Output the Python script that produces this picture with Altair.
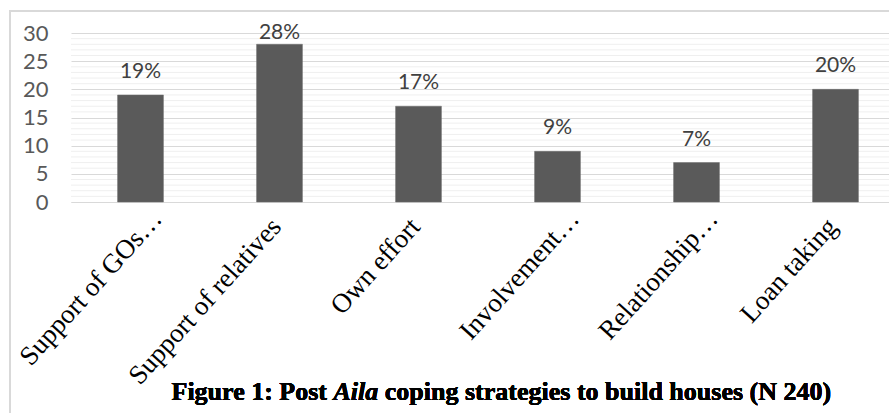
import altair as alt
import pandas as pd

categories = ["Support of GOs…", "Support of relatives", "Own effort",
              "Involvement…", "Relationship…", "Loan taking"]
values = [19, 28, 17, 9, 7, 20]
labels = ["19%", "28%", "17%", "9%", "7%", "20%"]
y_ticks = [0, 5, 10, 15, 20, 25, 30]

df = pd.DataFrame({"cat": categories, "v": values, "lab": labels})

W, H = 818, 169

xscale = alt.Scale(domain=categories, range=[0, 834], paddingInner=0.67, paddingOuter=0.335)
yscale = alt.Scale(domain=[0, 30], nice=False)

yaxis = alt.Axis(values=y_ticks, grid=True, gridColor="#d9d9d9", gridWidth=1,
                 ticks=False, domain=False, labelFont="Lato", labelFontSize=22,
                 labelColor="#595959", labelPadding=23, labelOverlap=False,
                 labelFlush=False)

ell = "indexof(datum.label, '…') >= 0"

base = alt.Chart(df)

frame = alt.Chart(df).mark_rect(fill=None, stroke="#d9d9d9", strokeWidth=1.5, clip=False).encode(
    x=alt.value(-61), x2=alt.value(900), y=alt.value(-22), y2=alt.value(400)
)

minor = alt.Chart(alt.sequence(1, 30, as_="t")).transform_filter(
    "datum.t % 5 != 0"
).mark_rule(color="#efefef", strokeWidth=1).encode(
    y=alt.Y("t:Q", scale=yscale, axis=yaxis, title=None)
)

bars = base.mark_bar(color="#5a5a5a", stroke="#6e6e6e", strokeWidth=0.5).encode(
    x=alt.X("cat:N", scale=xscale, sort=categories, title=None,
            axis=alt.Axis(labelAngle=312, labelAlign="right", labelBaseline="middle",
                          labelFont="Liberation Serif", labelFontSize=27, labelColor="#000000",
                          labelPadding={"condition": {"test": ell, "value": 12}, "value": 20},
                          ticks=False, domain=True, domainColor="#d9d9d9",
                          labelLimit=0, labelOverlap=False, labelBound=False,
                          labelOffset={"condition": {"test": ell, "value": 17}, "value": -3})),
    y=alt.Y("v:Q", scale=yscale, title=None, axis=yaxis)
)

text = base.transform_calculate(ly="min(datum.v + 3, 28.9)").mark_text(
    font="Lato", fontSize=21, color="#404040", baseline="alphabetic", align="center"
).encode(
    x=alt.X("cat:N", scale=xscale, sort=categories),
    y=alt.Y("ly:Q", scale=yscale, axis=yaxis, title=None),
    text="lab:N"
)

tsize = 26
t1 = alt.Chart(df).mark_text(text="Figure 1: Post", font="Liberation Serif", fontWeight="bold",
                             fontSize=tsize, align="right", baseline="alphabetic", color="#000000").encode(
    x=alt.value(256), y=alt.value(367))
t2 = alt.Chart(df).mark_text(text="Aila", font="Liberation Serif", fontWeight="bold", fontStyle="italic",
                             fontSize=tsize, align="left", baseline="alphabetic", color="#000000").encode(
    x=alt.value(262.5), y=alt.value(367))
t3 = alt.Chart(df).mark_text(text="coping strategies to build houses (N 240)", font="Liberation Serif",
                             fontWeight="bold", fontSize=tsize, align="left", baseline="alphabetic",
                             color="#000000").encode(
    x=alt.value(313.8), y=alt.value(367))

chart = alt.layer(frame, minor, bars, text, t1, t2, t3).properties(
    width=W, height=H,
    autosize=alt.AutoSizeParams(type="none"),
    padding={"left": 71, "top": 33, "right": 0, "bottom": 211},
    background="#ffffff"
).configure_view(stroke=None)

chart.save("out.html", embed_options={"renderer": "svg", "actions": False})
